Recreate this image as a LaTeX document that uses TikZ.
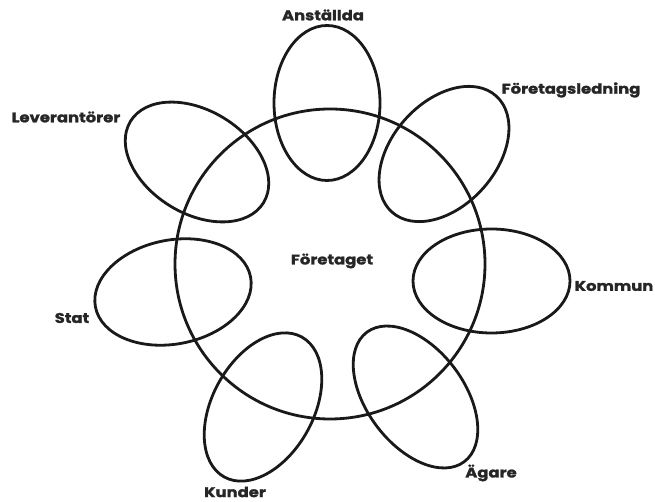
\documentclass[tikz,border=0pt]{standalone}
\usepackage{fontspec}
\setmainfont{Poppins}
\newfontfamily\lblfont{Poppins}[FakeStretch=1.17,BoldFeatures={FakeBold=1.5}]
\begin{document}
\begin{tikzpicture}[x=1pt,y=1pt,
  ring/.style={draw=black!90,line width=2.8pt},
  lbl/.style={font=\lblfont\bfseries\fontsize{14}{16}\selectfont,inner sep=0pt,text=black!85}]
\useasboundingbox (0,0) rectangle (655,502);
% main circle
\draw[ring] (330,238) circle [radius=155];
% stakeholder ellipses
\draw[ring] (327,399) ellipse [x radius=53,y radius=77.5];
\draw[ring,rotate around={48:(444,348)}] (444,348) ellipse [x radius=78,y radius=52];
\draw[ring] (491.5,221) ellipse [x radius=78.5,y radius=52];
\draw[ring,rotate around={-53:(415.5,105)}] (415.5,105) ellipse [x radius=81,y radius=48.5];
\draw[ring,rotate around={61:(263,95)}] (263,95) ellipse [x radius=80,y radius=50.5];
\draw[ring,rotate around={11:(173,210)}] (173,210) ellipse [x radius=79,y radius=52];
\draw[ring,rotate around={-31.5:(197,340)}] (197,340) ellipse [x radius=78,y radius=51.5];
% labels
\node[lbl] (anst) at (323,487) {Anställda};
\node[lbl] (ledn) at (571,412) {Företagsledning};
\node[lbl] (lev) at (66,385) {Leverantörer};
\node[lbl] (ftg) at (332,241) {Företaget};
\node[lbl] (komm) at (614,216) {Kommun};
\node[lbl] (stat) at (72,184) {Stat};
\node[lbl] (kund) at (235,10) {Kunder};
\node[lbl] (agare) at (491,29) {Ägare};
\end{tikzpicture}
\end{document}
